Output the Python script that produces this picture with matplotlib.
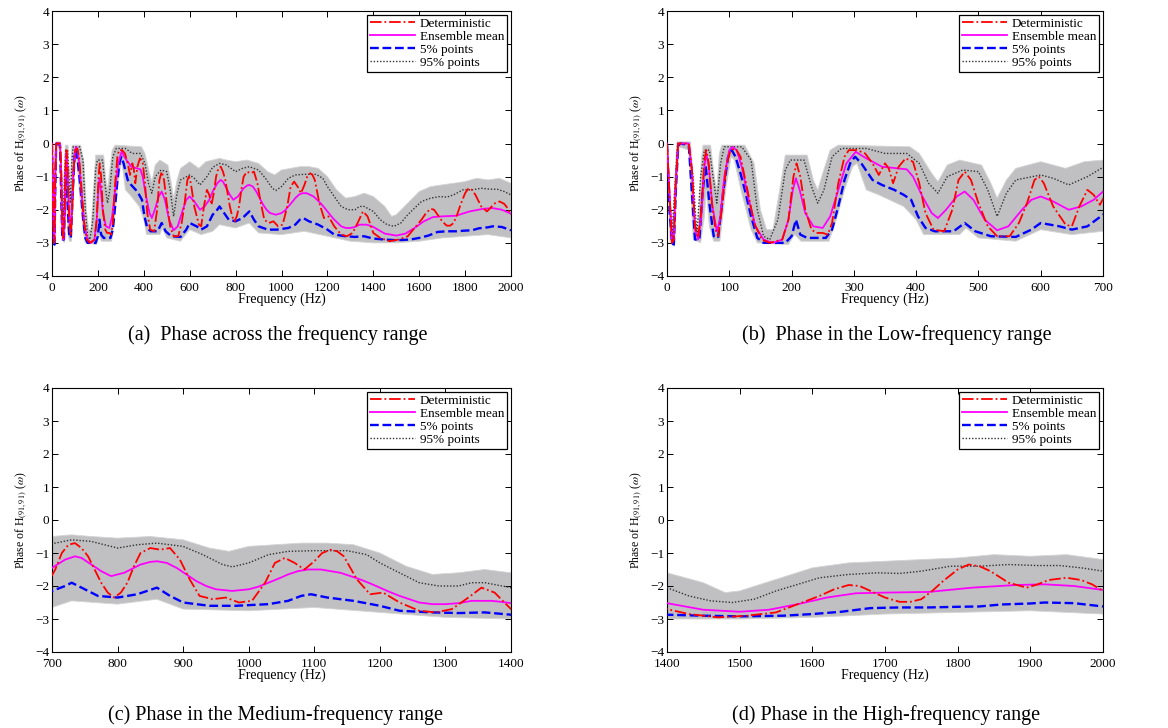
import matplotlib
matplotlib.use('Agg')
import matplotlib.pyplot as plt
import numpy as np

plt.rcParams['font.family'] = ['Liberation Serif', 'DejaVu Serif']
plt.rcParams['mathtext.fontset'] = 'stix'

# (frequency Hz, phase)
deterministic = [
    (0, 0.0), (4, -1.5), (8, -3.0), (11, -2.9), (14, -1.2), (18, 0.0), (35, 0.0), (40, -0.8),
    (45, -2.5), (50, -2.85), (55, -2.0), (60, -0.5), (63, -0.2), (67, -0.6), (72, -1.8), (78, -2.6),
    (82, -2.8), (88, -2.0), (95, -0.7), (102, -0.2), (110, -0.15), (118, -0.4), (128, -1.3),
    (140, -2.4), (152, -2.9), (165, -3.0), (185, -2.9), (195, -2.3), (203, -1.0), (208, -0.6),
    (214, -1.0), (222, -2.0), (232, -2.6), (240, -2.7), (250, -2.7), (258, -2.75), (265, -2.4),
    (275, -1.2), (285, -0.4), (292, -0.2), (305, -0.2), (318, -0.3), (330, -0.6), (340, -0.95),
    (350, -0.6), (356, -0.75), (363, -1.2), (372, -0.7), (383, -0.45), (395, -0.55), (405, -1.2),
    (415, -2.1), (428, -2.6), (445, -2.65), (458, -2.0), (468, -1.1), (478, -0.85), (488, -1.1),
    (500, -1.8), (515, -2.5), (530, -2.8), (550, -2.8), (565, -2.4), (578, -1.8), (590, -1.1),
    (597, -1.0), (605, -1.2), (620, -1.9), (640, -2.45), (650, -2.5), (662, -1.9), (675, -1.4),
    (685, -1.55), (695, -1.85), (705, -1.5), (715, -1.0), (725, -0.75), (735, -0.7), (745, -0.85),
    (755, -1.1), (765, -1.5), (775, -1.9), (785, -2.2), (795, -2.35), (805, -2.2), (815, -1.9),
    (825, -1.4), (835, -1.0), (850, -0.85), (865, -0.9), (880, -0.85), (895, -1.2), (910, -1.8),
    (925, -2.3), (945, -2.4), (965, -2.35), (985, -2.5), (1005, -2.45), (1025, -1.9), (1040, -1.3),
    (1055, -1.15), (1070, -1.3), (1085, -1.5), (1100, -1.25), (1112, -1.0), (1125, -0.9),
    (1135, -0.95), (1145, -1.1), (1155, -1.45), (1165, -1.8), (1185, -2.25), (1205, -2.2),
    (1230, -2.5), (1260, -2.75), (1285, -2.8), (1310, -2.7), (1335, -2.35), (1355, -2.05),
    (1375, -2.2), (1390, -2.5), (1400, -2.7), (1430, -2.85), (1470, -2.95), (1510, -2.9),
    (1550, -2.8), (1580, -2.55), (1610, -2.3), (1630, -2.1), (1650, -1.97), (1665, -2.0),
    (1680, -2.15), (1700, -2.35), (1720, -2.48), (1735, -2.48), (1750, -2.4), (1765, -2.15),
    (1780, -1.85), (1800, -1.5), (1815, -1.35), (1830, -1.4), (1845, -1.55), (1870, -1.9),
    (1895, -2.05), (1910, -1.95), (1925, -1.82), (1950, -1.75), (1970, -1.82), (1985, -1.95),
    (2000, -2.15)]

ens_mean = [
    (0, 0.0), (4, -1.5), (8, -3.0), (11, -2.9), (14, -1.2), (18, 0.0), (35, 0.0), (40, -0.8),
    (45, -2.6), (50, -2.9), (55, -2.2), (60, -0.7), (63, -0.3), (67, -0.7), (73, -1.9), (80, -2.65),
    (85, -2.3), (92, -1.0), (100, -0.2), (105, -0.1), (112, -0.2), (120, -0.7), (130, -1.6),
    (142, -2.5), (155, -2.9), (170, -3.0), (185, -2.9), (195, -2.3), (202, -1.4), (207, -1.05),
    (213, -1.4), (222, -2.1), (235, -2.5), (250, -2.55), (262, -2.2), (275, -1.4), (288, -0.6),
    (303, -0.25), (320, -0.45), (345, -0.7), (370, -0.75), (385, -0.78), (395, -1.0), (410, -1.6),
    (425, -2.1), (435, -2.25), (448, -2.0), (465, -1.6), (478, -1.45), (492, -1.7), (510, -2.3),
    (530, -2.62), (548, -2.5), (570, -2.0), (585, -1.7), (600, -1.6), (620, -1.75), (645, -2.0),
    (665, -1.9), (685, -1.7), (700, -1.45), (720, -1.2), (735, -1.1), (745, -1.15), (760, -1.35),
    (775, -1.55), (790, -1.7), (810, -1.6), (835, -1.35), (850, -1.27), (860, -1.25), (875, -1.3),
    (890, -1.45), (905, -1.65), (920, -1.85), (935, -2.0), (950, -2.1), (975, -2.15), (1000, -2.1),
    (1015, -2.02), (1030, -1.9), (1045, -1.78), (1060, -1.65), (1075, -1.55), (1090, -1.5),
    (1110, -1.5), (1140, -1.6), (1155, -1.7), (1170, -1.8), (1185, -1.92), (1200, -2.05),
    (1215, -2.18), (1230, -2.3), (1260, -2.5), (1280, -2.55), (1300, -2.55), (1320, -2.52),
    (1340, -2.45), (1370, -2.45), (1385, -2.48), (1400, -2.52), (1450, -2.72), (1500, -2.78),
    (1540, -2.72), (1580, -2.55), (1620, -2.35), (1660, -2.22), (1700, -2.2), (1760, -2.18),
    (1820, -2.05), (1880, -1.97), (1920, -1.95), (1960, -2.0), (2000, -2.12)]

pct5 = [
    (0, 0.0), (4, -2.0), (8, -3.0), (11, -3.05), (14, -1.5), (18, -0.05), (22, 0.0), (35, -0.05),
    (40, -1.5), (45, -2.9), (52, -2.9), (57, -1.5), (62, -0.65), (68, -1.8), (75, -2.8), (82, -2.85),
    (90, -1.5), (98, -0.4), (104, -0.2), (110, -0.4), (118, -0.9), (125, -1.4), (135, -2.2),
    (145, -2.85), (155, -3.0), (190, -3.0), (200, -2.8), (207, -2.3), (214, -2.75), (225, -2.85),
    (255, -2.85), (265, -2.6), (275, -1.9), (285, -1.1), (295, -0.55), (302, -0.4), (312, -0.6),
    (330, -1.1), (345, -1.25), (365, -1.4), (380, -1.55), (392, -1.7), (403, -2.2), (415, -2.55),
    (430, -2.65), (460, -2.65), (478, -2.4), (495, -2.65), (520, -2.8), (560, -2.82), (585, -2.6),
    (600, -2.4), (630, -2.5), (650, -2.6), (675, -2.5), (700, -2.15), (720, -2.0), (730, -1.9),
    (745, -2.05), (770, -2.3), (800, -2.35), (830, -2.25), (860, -2.05), (880, -2.3), (900, -2.5),
    (940, -2.6), (980, -2.6), (1030, -2.55), (1060, -2.45), (1080, -2.3), (1095, -2.25),
    (1120, -2.35), (1160, -2.45), (1200, -2.6), (1230, -2.75), (1280, -2.8), (1320, -2.82),
    (1360, -2.8), (1400, -2.87), (1450, -2.9), (1500, -2.92), (1560, -2.9), (1600, -2.85),
    (1640, -2.78), (1680, -2.67), (1720, -2.65), (1760, -2.65), (1800, -2.63), (1830, -2.62),
    (1860, -2.56), (1900, -2.53), (1920, -2.5), (1960, -2.52), (2000, -2.62)]

pct95 = [
    (0, 0.0), (4, -1.5), (8, -2.8), (12, -1.5), (17, 0.0), (35, 0.0), (42, -1.0), (48, -2.8),
    (54, -1.0), (60, -0.2), (68, -0.2), (74, -1.0), (80, -1.8), (86, -0.6), (92, -0.1), (120, -0.1),
    (135, -0.5), (145, -2.0), (155, -2.8), (165, -2.9), (178, -2.3), (190, -0.8), (198, -0.5),
    (220, -0.5), (232, -1.3), (242, -1.8), (252, -1.4), (265, -0.4), (280, -0.15), (320, -0.15),
    (350, -0.3), (385, -0.3), (405, -0.6), (420, -1.2), (435, -1.5), (450, -1.0), (475, -0.8),
    (500, -0.85), (515, -1.4), (530, -2.2), (545, -1.5), (560, -1.1), (600, -0.95), (620, -1.05),
    (645, -1.25), (675, -1.0), (700, -0.72), (730, -0.6), (760, -0.65), (790, -0.8), (800, -0.85),
    (830, -0.75), (860, -0.7), (900, -0.8), (930, -1.05), (960, -1.35), (975, -1.42), (1000, -1.3),
    (1030, -1.05), (1060, -0.95), (1100, -0.93), (1150, -0.93), (1180, -1.05), (1200, -1.3),
    (1230, -1.6), (1260, -1.9), (1290, -2.0), (1320, -2.0), (1340, -1.9), (1360, -1.9),
    (1400, -2.05), (1430, -2.3), (1460, -2.45), (1490, -2.5), (1520, -2.4), (1550, -2.15),
    (1580, -1.95), (1610, -1.75), (1650, -1.65), (1690, -1.6), (1720, -1.62), (1750, -1.55),
    (1790, -1.4), (1830, -1.4), (1870, -1.35), (1910, -1.38), (1940, -1.38), (1970, -1.45),
    (2000, -1.55)]

# envelope of the Monte Carlo samples (grey cloud)
band_upper = [
    (0, 0.05), (5, -1.6), (9, -2.55), (13, -1.0), (16, 0.05), (38, 0.05), (45, -2.2), (50, -2.6),
    (55, -0.5), (58, -0.05), (70, -0.05), (76, -1.0), (80, -1.4), (84, -0.3), (88, -0.05),
    (125, -0.05), (140, -0.6), (150, -2.0), (160, -2.6), (170, -2.6), (180, -1.5), (190, -0.35),
    (225, -0.35), (235, -1.1), (242, -1.4), (250, -0.9), (262, -0.2), (275, -0.05), (390, -0.1),
    (405, -0.3), (425, -0.9), (435, -1.15), (450, -0.65), (470, -0.5), (505, -0.65), (520, -1.2),
    (530, -1.65), (545, -1.1), (560, -0.75), (600, -0.55), (640, -0.75), (670, -0.55), (700, -0.5),
    (730, -0.45), (760, -0.5), (800, -0.55), (850, -0.5), (900, -0.6), (940, -0.85), (970, -0.95),
    (1000, -0.8), (1040, -0.75), (1080, -0.7), (1120, -0.7), (1160, -0.75), (1200, -1.0),
    (1240, -1.4), (1280, -1.65), (1320, -1.6), (1360, -1.5), (1400, -1.6), (1450, -1.9),
    (1480, -2.2), (1500, -2.15), (1550, -1.8), (1600, -1.45), (1650, -1.3), (1700, -1.25),
    (1750, -1.2), (1800, -1.15), (1850, -1.05), (1900, -1.1), (1950, -1.05), (2000, -1.2)]

band_lower = [
    (0, -0.1), (5, -3.0), (12, -3.1), (16, -1.0), (19, -0.1), (35, -0.2), (42, -2.9), (54, -3.0),
    (60, -2.2), (63, -1.4), (68, -2.5), (75, -2.95), (85, -2.95), (95, -1.3), (103, -0.4),
    (108, -0.5), (120, -1.5), (135, -2.6), (145, -3.0), (195, -3.05), (205, -2.75), (215, -2.95),
    (260, -2.95), (272, -2.3), (285, -1.4), (298, -0.7), (305, -0.6), (320, -1.4), (340, -1.55),
    (380, -1.9), (400, -2.3), (412, -2.75), (470, -2.75), (480, -2.55), (500, -2.85), (560, -2.95),
    (600, -2.6), (650, -2.75), (700, -2.65), (730, -2.45), (800, -2.55), (860, -2.4), (900, -2.7),
    (1000, -2.75), (1100, -2.65), (1200, -2.8), (1300, -2.95), (1400, -3.0), (1500, -3.0),
    (1600, -2.95), (1700, -2.85), (1800, -2.8), (1900, -2.75), (2000, -2.85)]

xlims = [(0, 2000), (0, 700), (700, 1400), (1400, 2000)]
xsteps = [200, 100, 100, 100]
captions = ['(a)  Phase across the frequency range',
            '(b)  Phase in the Low-frequency range',
            '(c) Phase in the Medium-frequency range',
            '(d) Phase in the High-frequency range']

W, H = 1168, 728
# axes boxes in pixels: left, top, right, bottom
boxes = [(52, 11, 511, 276), (667, 11, 1103, 276),
         (52, 388, 511, 652), (667, 388, 1103, 652)]
cap_pos = [(278, 335), (897, 335), (276, 715), (886, 715)]

fig = plt.figure(figsize=(W / 100, H / 100), dpi=100)

det = np.array(deterministic).T
mn = np.array(ens_mean).T
p5 = np.array(pct5).T
p95 = np.array(pct95).T
bu = np.array(band_upper)
bl = np.array(band_lower)
poly = np.vstack([bu, bl[::-1]])

for i in range(4):
    l, t, r, b = boxes[i]
    ax = fig.add_axes([l / W, 1 - b / H, (r - l) / W, (b - t) / H])
    ax.fill(poly[:, 0], poly[:, 1], color='#c0c0c2', ec='#d4d4d4', lw=0.6, zorder=1)
    ax.plot(det[0], det[1], color='#ff0000', ls='-.', lw=1.3, label='Deterministic', zorder=5)
    ax.plot(mn[0], mn[1], color='#ff00ff', ls='-', lw=1.3, label='Ensemble mean', zorder=4)
    ax.plot(p5[0], p5[1], color='#0000ff', ls='--', lw=1.7, label='5% points', zorder=3)
    ax.plot(p95[0], p95[1], color='#333333', ls=(0, (1, 1.3)), lw=1.0, label='95% points', zorder=3)

    x0, x1 = xlims[i]
    ax.set_xlim(x0, x1)
    ax.set_ylim(-4, 4)
    ax.set_xticks(np.arange(x0, x1 + 1, xsteps[i]))
    ax.set_yticks(np.arange(-4, 5, 1))
    ax.tick_params(direction='in', top=True, right=True, length=4, width=0.7,
                   labelsize=9.5)
    ax.tick_params(axis='x', pad=4)
    ax.tick_params(axis='y', pad=2)
    for s in ax.spines.values():
        s.set_linewidth(0.8)
    ax.set_xlabel('Frequency (Hz)', fontsize=10, labelpad=-1)
    ax.set_ylabel(r'Phase of H$_{(91,91)}$ ($\omega$)', fontsize=8.5, labelpad=4)
    leg = ax.legend(loc='upper right', fontsize=9.5, frameon=True, fancybox=False,
                    edgecolor='black', framealpha=1, borderaxespad=0.3, borderpad=0.2,
                    labelspacing=0.06, handlelength=3.4, handletextpad=0.4)
    leg.get_frame().set_linewidth(0.9)

    cx, cy = cap_pos[i]
    fig.text(cx / W, 1 - cy / H, captions[i], ha='center', va='center', fontsize=14.5)

fig.savefig('out.png', dpi=100)
